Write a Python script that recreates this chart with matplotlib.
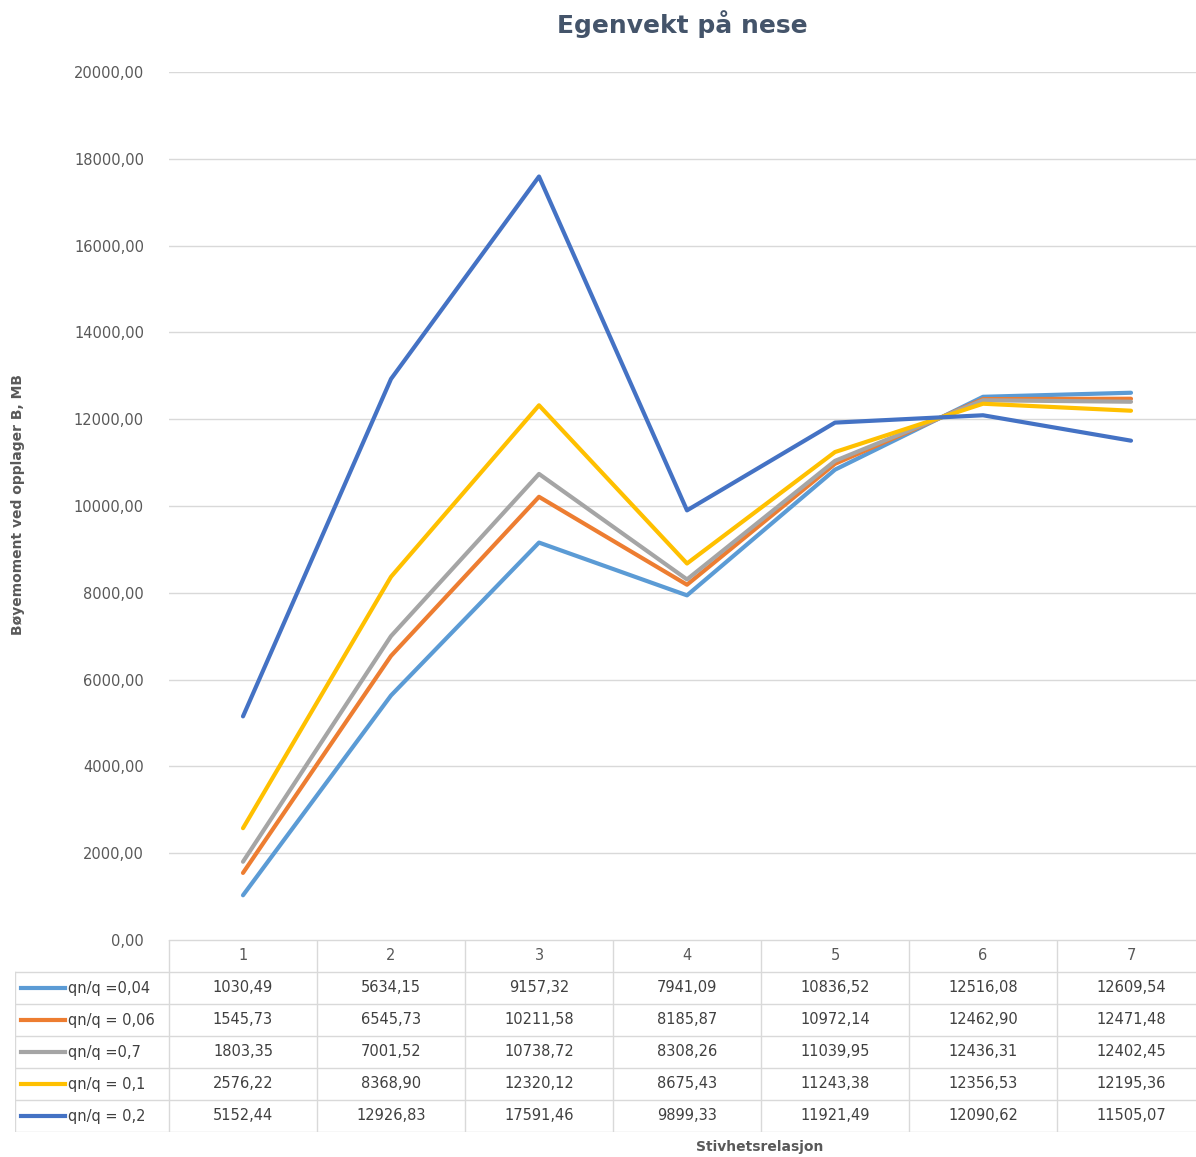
import matplotlib.pyplot as plt

kategorier = [1, 2, 3, 4, 5, 6, 7]
serie_navn = ['qn/q =0,04', 'qn/q = 0,06', 'qn/q =0,7', 'qn/q = 0,1', 'qn/q = 0,2']
q004 = [1030.49, 5634.15, 9157.32, 7941.09, 10836.52, 12516.08, 12609.54]
q006 = [1545.73, 6545.73, 10211.58, 8185.87, 10972.14, 12462.90, 12471.48]
q07 = [1803.35, 7001.52, 10738.72, 8308.26, 11039.95, 12436.31, 12402.45]
q01 = [2576.22, 8368.90, 12320.12, 8675.43, 11243.38, 12356.53, 12195.36]
q02 = [5152.44, 12926.83, 17591.46, 9899.33, 11921.49, 12090.62, 11505.07]
farger = ['#5B9BD5', '#ED7D31', '#A5A5A5', '#FFC000', '#4472C4']
y_ticks = [0, 2000, 4000, 6000, 8000, 10000, 12000, 14000, 16000, 18000, 20000]

serier = [q004, q006, q07, q01, q02]

W, H = 1196, 1157
fig = plt.figure(figsize=(W / 100, H / 100), dpi=100)

# hovedplott: x 169..1205 px, y 72..940 px
ax = fig.add_axes([169 / W, (H - 940) / H, 1036 / W, 868 / H])
for verdier, farge, navn in zip(serier, farger, serie_navn):
    ax.plot(kategorier, verdier, color=farge, lw=3, label=navn, solid_capstyle='round')
ax.set_xlim(0.5, 7.5)
ax.set_ylim(0, 20000)
ax.set_yticks(y_ticks)
ax.set_yticklabels([f'{v:.2f}'.replace('.', ',') for v in y_ticks])
ax.set_xticks([])
ax.tick_params(axis='y', length=0, pad=18, labelsize=10.5, labelcolor='#595959')
ax.grid(axis='y', color='#D9D9D9', lw=1)
ax.set_axisbelow(True)
for s in ax.spines.values():
    s.set_visible(False)

fig.text(682 / W, 1 - 24 / H, 'Egenvekt på nese', ha='center', va='center',
         fontsize=18, fontweight='bold', color='#44546A')
fig.text(18 / W, 1 - 505 / H, 'Bøyemoment ved opplager B, MB', rotation=90,
         ha='center', va='center', fontsize=10, fontweight='bold', color='#595959')
fig.text(760 / W, 1 - 1147 / H, 'Stivhetsrelasjon', ha='center', va='center',
         fontsize=10, fontweight='bold', color='#595959')

# datatabell under plottet
tx0 = 0.5 - (169 - 15) / 148
tab = fig.add_axes([15 / W, (H - 1132) / H, (1205 - 15) / W, (1132 - 940) / H])
tab.set_xlim(tx0, 7.5)
tab.set_ylim(6, 0)
tab.axis('off')
lc = '#D9D9D9'
# horisontale linjer
tab.plot([0.5, 7.5], [0, 0], color=lc, lw=1)
for r in range(1, 7):
    tab.plot([tx0, 7.5], [r, r], color=lc, lw=1)
# vertikale linjer
tab.plot([tx0, tx0], [1, 6], color=lc, lw=1)
for k in range(8):
    tab.plot([k + 0.5, k + 0.5], [0, 6], color=lc, lw=1)
for k in kategorier:
    tab.text(k, 0.5, str(k), ha='center', va='center', fontsize=10.5, color='#595959')
for i, (verdier, farge, navn) in enumerate(zip(serier, farger, serie_navn)):
    y = i + 1.5
    tab.plot([tx0 + 0.04, tx0 + 0.34], [y, y], color=farge, lw=3)
    tab.text(tx0 + 0.36, y, navn, ha='left', va='center', fontsize=10.5, color='#404040')
    for k, v in zip(kategorier, verdier):
        tab.text(k, y, f'{v:.2f}'.replace('.', ','), ha='center', va='center',
                 fontsize=10.5, color='#404040')

fig.savefig('out.png', dpi=100)
